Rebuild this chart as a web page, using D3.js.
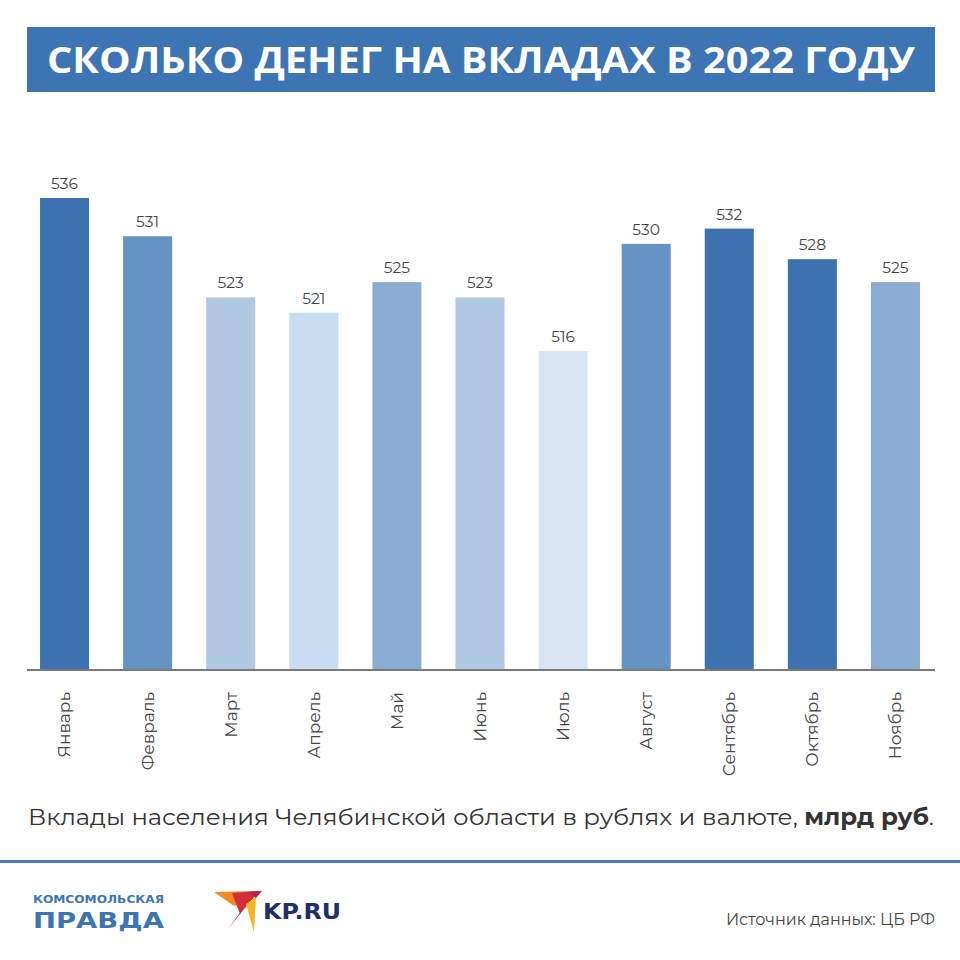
<!DOCTYPE html>
<html><head><meta charset="utf-8">
<script src="https://cdn.jsdelivr.net/npm/d3@7"></script>
<style>body{margin:0;background:#fff}svg{display:block}</style>
</head><body>
<script>
const months = ["Январь","Февраль","Март","Апрель","Май","Июнь","Июль","Август","Сентябрь","Октябрь","Ноябрь"];
const values = [536,531,523,521,525,523,516,530,532,528,525];
const colors = ["#3d72b0","#6593c4","#b0c8e2","#c6ddf2","#8badd4","#b0c8e2","#d9e5f2","#6593c4","#3d72b0","#3d72b0","#8badd4"];
const title = "СКОЛЬКО ДЕНЕГ НА ВКЛАДАХ В 2022 ГОДУ";
const font = "Montserrat, 'Noto Sans', 'Open Sans', sans-serif";

const W = 960, H = 960;
const svg = d3.select("body").append("svg").attr("width", W).attr("height", H);
svg.append("rect").attr("width", W).attr("height", H).attr("fill", "#fff");

// title
svg.append("rect").attr("x", 27).attr("y", 27).attr("width", 908).attr("height", 65).attr("fill", "#3d74b4");
svg.append("text").attr("x", 481).attr("y", 73).attr("text-anchor", "middle")
  .attr("font-family", "'Open Sans', 'Noto Sans', sans-serif").attr("font-weight", 700)
  .attr("font-size", 35).attr("fill", "#fff").attr("textLength", 868).attr("lengthAdjust","spacingAndGlyphs").text(title);

const x = d3.scaleBand().domain(months).range([23, 937]).paddingInner(0.41).paddingOuter(0.205);
const y = d3.scaleLinear().domain([474.3, 536]).range([670, 198]);

const g = svg.append("g");
g.selectAll("rect.bar").data(values).join("rect").attr("class","bar")
  .attr("x", (d,i) => x(months[i])).attr("width", x.bandwidth())
  .attr("y", d => y(d)).attr("height", d => 670 - y(d))
  .attr("fill", (d,i) => colors[i]);

g.selectAll("text.val").data(values).join("text").attr("class","val")
  .attr("x", (d,i) => x(months[i]) + x.bandwidth()/2).attr("y", d => y(d) - 9)
  .attr("text-anchor","middle").attr("font-family", font).attr("font-size", 15.5)
  .attr("fill","#444").text(d => d);

// axis
const axis = d3.axisBottom(x).tickSize(0).tickPadding(0);
const ax = svg.append("g").attr("transform","translate(0,670)").call(axis);
ax.select(".domain").remove();
svg.append("line").attr("x1",27).attr("x2",935).attr("y1",670).attr("y2",670).attr("stroke","#7a7a7a").attr("stroke-width",2);
ax.selectAll(".tick text")
  .attr("transform","rotate(-90)").attr("x", -22).attr("y", 0).attr("dy","0.35em")
  .attr("text-anchor","end").attr("font-family", font).attr("font-size", 17).attr("fill","#444");

// subtitle
const sub = svg.append("text").attr("x", 28).attr("y", 825).attr("font-family", font).attr("font-size", 23)
  .attr("fill","#333").attr("textLength", 906).attr("lengthAdjust","spacingAndGlyphs");
sub.append("tspan").text("Вклады населения Челябинской области в рублях и валюте, ");
sub.append("tspan").attr("font-weight",700).text("млрд руб");
sub.append("tspan").text(".");

svg.append("rect").attr("x",0).attr("y",860).attr("width",960).attr("height",3).attr("fill","#4a78b0");

// logos
svg.append("text").attr("x", 33).attr("y", 903).attr("font-family","'DejaVu Sans', sans-serif").attr("font-weight",900)
  .attr("font-size", 11).attr("fill","#3d74b4").attr("textLength",131).attr("lengthAdjust","spacingAndGlyphs").text("КОМСОМОЛЬСКАЯ");
svg.append("text").attr("x", 33).attr("y", 928).attr("font-family","'DejaVu Sans', sans-serif").attr("font-weight",900)
  .attr("font-size", 22).attr("fill","#3d74b4").attr("textLength",131).attr("lengthAdjust","spacingAndGlyphs").text("ПРАВДА");

const bird = svg.append("g");
bird.append("path").attr("d","M214 892 L258 891 L252 899 L234 906 Z").attr("fill","#f08a24");
bird.append("path").attr("d","M232 893 L259 891 L240 914 Z").attr("fill","#d42e3c");
bird.append("path").attr("d","M240 914 L248 901 L236 918 L228 929 Z").attr("fill","#8b2c8c");
bird.append("path").attr("d","M246 904 L256 897 L254 932 Z").attr("fill","#f5b622");
bird.append("path").attr("d","M248 892 L262 891 L256 898 Z").attr("fill","#b8224a");
svg.append("text").attr("x", 263).attr("y", 919).attr("font-family","'DejaVu Sans', sans-serif").attr("font-weight",900)
  .attr("font-size", 22).attr("fill","#1f2f6b").attr("textLength",78).attr("lengthAdjust","spacingAndGlyphs").text("KP.RU");

svg.append("text").attr("x", 935).attr("y", 925).attr("text-anchor","end").attr("font-family", font)
  .attr("font-size", 16).attr("fill","#444").text("Источник данных: ЦБ РФ");
</script>
</body></html>
